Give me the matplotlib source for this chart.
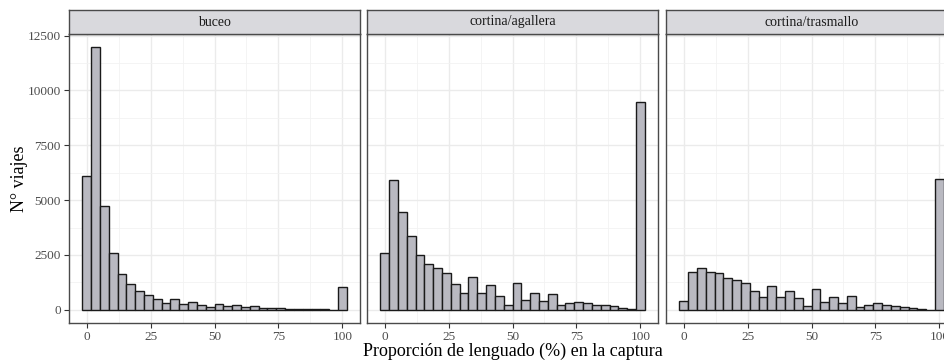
import numpy as np
import matplotlib
matplotlib.use("Agg")
import matplotlib.pyplot as plt

plt.rcParams['font.family'] = ['Liberation Serif', 'DejaVu Serif']

# trips per bin of sole share (%), 30 bins from 0 to 100
artes = ["buceo", "cortina/agallera", "cortina/trasmallo"]
buceo = [6080, 11970, 4740, 2570, 1630, 1160, 880, 680, 500, 320,
         480, 260, 350, 210, 110, 260, 180, 210, 130, 160,
         75, 75, 75, 60, 45, 45, 45, 30, 10, 1060]
agallera = [2570, 5930, 4440, 3380, 2520, 2080, 1920, 1680, 1180, 790,
            1480, 760, 1150, 620, 240, 1240, 470, 790, 410, 700,
            210, 330, 380, 330, 240, 200, 170, 90, 30, 9470]
trasmallo = [420, 1720, 1920, 1740, 1660, 1440, 1360, 1220, 860, 600,
             1100, 570, 880, 530, 170, 950, 350, 600, 320, 620,
             140, 210, 290, 210, 170, 120, 90, 45, 15, 5980]
conteos = [buceo, agallera, trasmallo]

x_ticks = [0, 25, 50, 75, 100]
y_ticks = [0, 2500, 5000, 7500, 10000, 12500]

nbins = 30
bw = 100 / (nbins - 1)
centros = np.linspace(0, 100, nbins)

W, H = 944, 360
fig = plt.figure(figsize=(W / 100, H / 100), dpi=100)

ymax = max(max(c) for c in conteos)
ylim = (-0.05 * ymax, 1.05 * ymax)
xr = (centros[0] - bw / 2, centros[-1] + bw / 2)
xpad = 0.05 * (xr[1] - xr[0])
xlim = (xr[0] - xpad, xr[1] + xpad)

lefts = [69, 367, 666]
pw = 291
top, bottom = 34, 323
strip_top = 10
borde = "#4a4a4a"

for i, (arte, n) in enumerate(zip(artes, conteos)):
    ax = fig.add_axes([lefts[i] / W, 1 - bottom / H, pw / W, (bottom - top) / H])
    ax.set_facecolor("white")
    ax.bar(centros, n, width=bw, color="#b9b9c1", edgecolor="#1a1a1a",
           linewidth=1.0, zorder=3)
    ax.set_xlim(xlim)
    ax.set_ylim(ylim)
    ax.set_xticks(x_ticks)
    ax.set_xticks([12.5, 37.5, 62.5, 87.5], minor=True)
    ax.set_yticks(y_ticks)
    ax.set_yticks([1250, 3750, 6250, 8750, 11250], minor=True)
    ax.grid(which="major", color="#ebebeb", linewidth=1.0, zorder=0)
    ax.grid(which="minor", color="#f2f2f2", linewidth=0.6, zorder=0)
    ax.tick_params(which="major", length=3.5, width=0.8, color="#333333",
                   labelsize=9.5, labelcolor="#4d4d4d", pad=2.5)
    ax.tick_params(which="minor", length=0)
    if i > 0:
        ax.tick_params(axis="y", left=False, labelleft=False)
    for s in ax.spines.values():
        s.set_color(borde)
        s.set_linewidth(1.0)

    # facet strip
    sax = fig.add_axes([lefts[i] / W, 1 - top / H, pw / W, (top - strip_top) / H])
    sax.set_facecolor("#d9d9dd")
    sax.set_xticks([])
    sax.set_yticks([])
    for s in sax.spines.values():
        s.set_color(borde)
        s.set_linewidth(1.0)
    sax.text(0.5, 0.5, arte, ha="center", va="center", fontsize=10,
             color="#1a1a1a", transform=sax.transAxes)

fig.text((lefts[0] + lefts[2] + pw) / 2 / W, 1 - 356 / H,
         "Proporción de lenguado (%) en la captura", ha="center",
         va="baseline", fontsize=13, color="black")
fig.text(20 / W, 1 - (top + bottom) / 2 / H, "N° viajes", rotation=90,
         ha="center", va="center", fontsize=13, color="black")

fig.savefig("out.png", dpi=100)
